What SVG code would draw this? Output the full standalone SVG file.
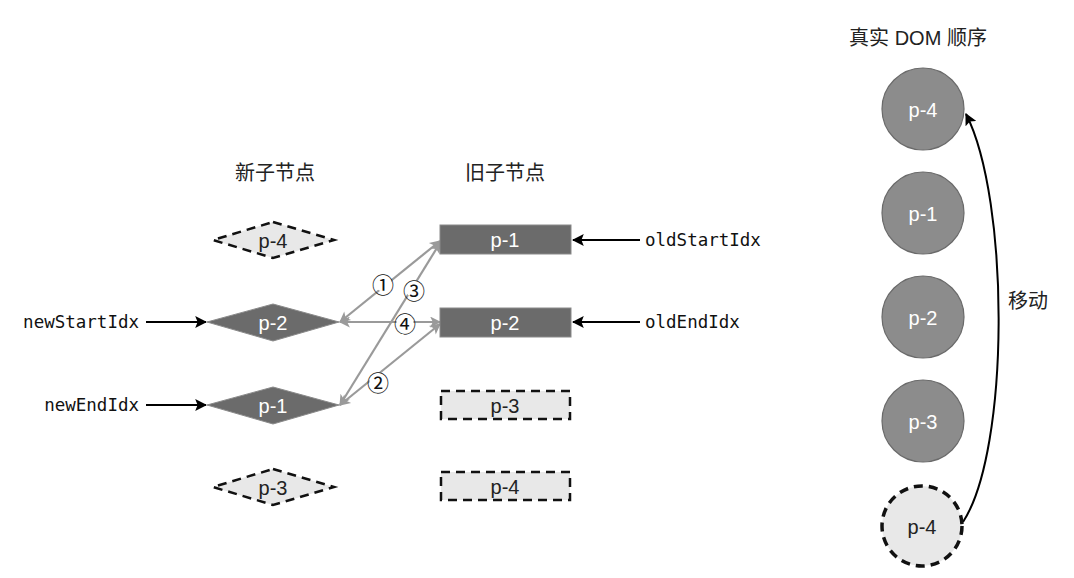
<svg xmlns="http://www.w3.org/2000/svg" width="1074" height="578" viewBox="0 0 1074 578">
  <style>
    .hdr { font-family: "Liberation Sans", "Noto Sans CJK SC", sans-serif; font-size: 20px; fill: #222; text-anchor: middle; }
    .lbl { font-family: "Liberation Sans", sans-serif; font-size: 20px; text-anchor: middle; dominant-baseline: central; }
    .w { fill: #fff; }
    .k { fill: #222; }
    .mono { font-family: "DejaVu Sans Mono", monospace; font-size: 17.5px; fill: #111; dominant-baseline: central; }
    .solid { fill: #6b6b6b; stroke: #8a8a8a; stroke-width: 1; }
    .ghost { fill: #e8e8e8; stroke: #111; stroke-width: 2.5; stroke-dasharray: 9 6; }
    .dom { fill: #8c8c8c; stroke: #6a6a6a; stroke-width: 1.2; }
    .cmp { stroke: #9a9a9a; stroke-width: 2.2; fill: none; marker-start: url(#ga); marker-end: url(#ga); }
    .ptr { stroke: #000; stroke-width: 2; fill: none; marker-end: url(#ba); }
    .num { font-family: "Noto Sans CJK SC", "DejaVu Sans", sans-serif; font-size: 22px; fill: #111; text-anchor: middle; dominant-baseline: central; }
  </style>
  <defs>
    <marker id="ga" viewBox="0 0 10 10" refX="9" refY="5" markerWidth="13" markerHeight="11" markerUnits="userSpaceOnUse" orient="auto-start-reverse">
      <path d="M0,0 L10,5 L0,10 L2.5,5 z" fill="#9a9a9a"/>
    </marker>
    <marker id="ba" viewBox="0 0 10 10" refX="9" refY="5" markerWidth="12" markerHeight="12" markerUnits="userSpaceOnUse" orient="auto">
      <path d="M0,0 L10,5 L0,10 L2,5 z" fill="#000"/>
    </marker>
  </defs>

  <!-- column headings -->
  <text class="hdr" x="275" y="180">新子节点</text>
  <text class="hdr" x="505" y="180">旧子节点</text>
  <text class="hdr" x="918" y="45">真实 DOM 顺序</text>

  <!-- comparison connectors and index pointers -->
  <g id="connectors">
    <line class="cmp" x1="440" y1="241" x2="340" y2="322"/>
    <line class="cmp" x1="440" y1="243" x2="340" y2="405"/>
    <line class="cmp" x1="340" y1="322" x2="440" y2="322"/>
    <line class="cmp" x1="440" y1="324" x2="340" y2="405"/>
    <circle cx="383" cy="283" r="8.5" fill="#fff"/><text class="num" x="383" y="283">①</text>
    <circle cx="414" cy="289" r="8.5" fill="#fff"/><text class="num" x="414" y="289">③</text>
    <circle cx="405" cy="322" r="8.5" fill="#fff"/><text class="num" x="405" y="322">④</text>
    <circle cx="378" cy="381" r="8.5" fill="#fff"/><text class="num" x="378" y="381">②</text>

    <line class="ptr" x1="146" y1="322" x2="206" y2="322"/>
    <line class="ptr" x1="146" y1="405" x2="206" y2="405"/>
    <line class="ptr" x1="640" y1="240" x2="573" y2="240"/>
    <line class="ptr" x1="640" y1="322" x2="573" y2="322"/>

    <path class="ptr" d="M963,522 C1010,450 1010,200 966,114"/>
    <text class="hdr" x="1028" y="308">移动</text>
  </g>

  <!-- index labels -->
  <text class="mono" x="139" y="322" text-anchor="end">newStartIdx</text>
  <text class="mono" x="139" y="405" text-anchor="end">newEndIdx</text>
  <text class="mono" x="645" y="240">oldStartIdx</text>
  <text class="mono" x="645" y="322">oldEndIdx</text>

  <!-- new children -->
  <g id="new-p4">
    <polygon class="ghost" points="273,222 334,240 273,258 213,240"/>
    <text class="lbl k" x="273" y="241">p-4</text>
  </g>
  <g id="new-p2">
    <polygon class="solid" points="273,304 339,322 273,341 207,322"/>
    <text class="lbl w" x="273" y="323">p-2</text>
  </g>
  <g id="new-p1">
    <polygon class="solid" points="273,387 339,405 273,424 207,405"/>
    <text class="lbl w" x="273" y="406">p-1</text>
  </g>
  <g id="new-p3">
    <polygon class="ghost" points="273,469 334,487 273,505 213,487"/>
    <text class="lbl k" x="273" y="488">p-3</text>
  </g>

  <!-- old children -->
  <g id="old-p1">
    <rect class="solid" x="440" y="225" width="131" height="29"/>
    <text class="lbl w" x="505" y="240">p-1</text>
  </g>
  <g id="old-p2">
    <rect class="solid" x="440" y="308" width="131" height="29"/>
    <text class="lbl w" x="505" y="323">p-2</text>
  </g>
  <g id="old-p3">
    <rect class="ghost" x="441" y="391" width="129" height="28"/>
    <text class="lbl k" x="505" y="406">p-3</text>
  </g>
  <g id="old-p4">
    <rect class="ghost" x="441" y="472" width="129" height="28"/>
    <text class="lbl k" x="505" y="487">p-4</text>
  </g>

  <!-- real DOM order -->
  <g id="dom-p4">
    <circle class="dom" cx="923" cy="109" r="41"/>
    <text class="lbl w" x="923" y="110">p-4</text>
  </g>
  <g id="dom-p1">
    <circle class="dom" cx="923" cy="213" r="41"/>
    <text class="lbl w" x="923" y="214">p-1</text>
  </g>
  <g id="dom-p2">
    <circle class="dom" cx="923" cy="317" r="41"/>
    <text class="lbl w" x="923" y="318">p-2</text>
  </g>
  <g id="dom-p3">
    <circle class="dom" cx="923" cy="421" r="41"/>
    <text class="lbl w" x="923" y="422">p-3</text>
  </g>
  <g id="dom-p4-old">
    <circle class="ghost" cx="922" cy="526" r="40" style="stroke-width:3.5;stroke-dasharray:9 6"/>
    <text class="lbl k" x="922" y="527">p-4</text>
  </g>
</svg>
